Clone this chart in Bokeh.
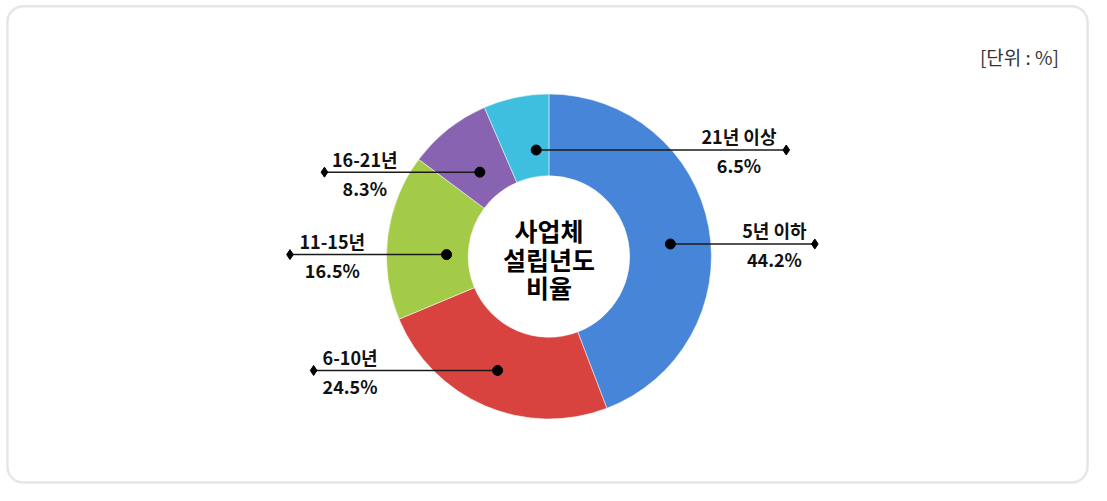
import math
from bokeh.plotting import figure
from bokeh.models import Range1d, BoxAnnotation
from bokeh.core.properties import value
from bokeh.embed import file_html
from bokeh.resources import INLINE

# ---- data ----
categories = ["5년 이하", "6-10년", "11-15년", "16-21년", "21년 이상"]
shares = [44.2, 24.5, 16.5, 8.3, 6.5]
share_labels = ["44.2%", "24.5%", "16.5%", "8.3%", "6.5%"]
colors = ["#4685d8", "#d8423f", "#a3cb48", "#8863b2", "#3ebfe0"]
center_title = ["사업체", "설립년도", "비율"]
unit_label = "[단위 : %]"

# ---- layout (reference-pixel coordinates; y grows downward, plotted as -y) ----
CX, CY = 557, 265
R_OUT, R_IN = 165, 82
attach_frac = [0.528, 0.507, 0.40, 0.485, 0.714]
attach_r = [124, 129, 104, 112, 111]
end_x = [827, 318, 294, 329, 798]
label_x = [786, 355, 337, 370, 750]
title_y = [238, 268, 297]
FONT = value("Noto Sans CJK KR")

p = figure(width=1090, height=484, output_backend="svg", toolbar_location=None,
           x_range=Range1d(0, 1107), y_range=Range1d(-501, 0),
           min_border=0)
p.axis.visible = False
p.grid.visible = False
p.outline_line_color = None
p.background_fill_color = "white"

# border
p.add_layout(BoxAnnotation(left=7, right=1104, top=-6, bottom=-499,
                           fill_color=None, line_color="#ababab", line_width=2.5,
                           border_radius=16, level="underlay"))

# donut
total = sum(shares)
starts, ends, mids = [], [], []
cum = 0.0
for i, s in enumerate(shares):
    a0 = cum / total * 2 * math.pi
    cum += s
    a1 = cum / total * 2 * math.pi
    starts.append(math.pi / 2 - a0)
    ends.append(math.pi / 2 - a1)
    mids.append(a0 + (a1 - a0) * attach_frac[i])

p.annular_wedge(x=[CX] * 5, y=[-CY] * 5, inner_radius=R_IN, outer_radius=R_OUT,
                start_angle=starts, end_angle=ends, direction="clock",
                fill_color=colors, line_color="#ffffff", line_alpha=0.5, line_width=1)

# leader lines
dot_x, dot_y = [], []
for i in range(5):
    dx = CX + attach_r[i] * math.sin(mids[i])
    dy = CY - attach_r[i] * math.cos(mids[i])
    dot_x.append(dx)
    dot_y.append(-dy)
p.segment(x0=dot_x, y0=dot_y, x1=end_x, y1=dot_y, line_color="#1a1a1a", line_width=1.5)
p.scatter(x=dot_x, y=dot_y, size=10, color="#000000")
p.scatter(x=end_x, y=dot_y, marker="diamond", size=10, color="#000000")

# labels
p.text(x=label_x, y=[y + 14 for y in dot_y], text=categories, text_font=FONT,
       text_font_size="18px", text_font_style="bold", text_align="center",
       text_baseline="middle", text_color="#111111")
p.text(x=label_x, y=[y - 16 for y in dot_y], text=share_labels, text_font=FONT,
       text_font_size="18px", text_font_style="bold", text_align="center",
       text_baseline="middle", text_color="#111111")

# center title
p.text(x=[CX] * 3, y=[-t for t in title_y],
       text=center_title, text_font=FONT, text_font_size="25px", text_font_style="bold",
       text_align="center", text_baseline="middle", text_color="#000000")

# unit
p.text(x=[1075], y=[-58], text=[unit_label], text_font=FONT, text_font_size="19px",
       text_align="right", text_baseline="middle", text_color="#333333")

open("out.html", "w").write(file_html(p, INLINE))
